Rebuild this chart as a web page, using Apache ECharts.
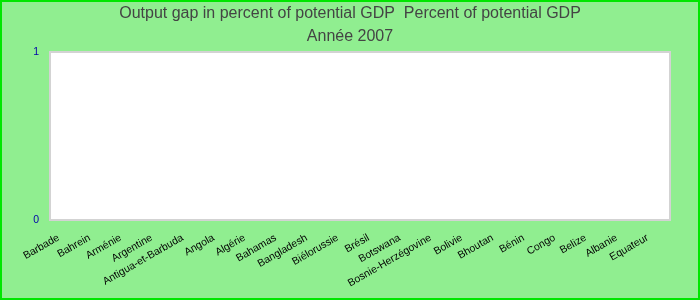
<!DOCTYPE html>
<html>
<head>
<meta charset="utf-8">
<script src="https://cdn.jsdelivr.net/npm/echarts@6/dist/echarts.min.js"></script>
<style>
html,body{margin:0;padding:0;background:#90EE90;}
#chart{width:700px;height:300px;}
</style>
</head>
<body>
<div id="chart"></div>
<script>
const titleLine1 = 'Output gap in percent of potential GDP  Percent of potential GDP';
const titleLine2 = 'Année 2007';
const categories = ['Barbade','Bahrein','Arménie','Argentine','Antigua-et-Barbuda','Angola','Algérie','Bahamas','Bangladesh','Biélorussie','Brésil','Botswana','Bosnie-Herzégovine','Bolivie','Bhoutan','Bénin','Congo','Belize','Albanie','Equateur'];
const values = [null,null,null,null,null,null,null,null,null,null,null,null,null,null,null,null,null,null,null,null];
const yTicks = [0, 1];

const chart = echarts.init(document.getElementById('chart'), null, {renderer:'canvas'});
chart.setOption({
  backgroundColor: '#90EE90',
  animation: false,
  textStyle: {fontFamily: 'Liberation Sans, Arial, sans-serif'},
  title: {
    text: titleLine1 + '\n' + titleLine2,
    left: 'center',
    top: 2,
    padding: 0,
    textStyle: {fontSize: 16, lineHeight: 23, color: '#444444', fontWeight: 'normal', fontFamily: 'Liberation Sans, Arial, sans-serif'}
  },
  grid: {left: 50, right: 30, top: 52, bottom: 80, show: true, backgroundColor: '#ffffff', borderColor: '#d3d3d3', borderWidth: 2, containLabel: false},
  xAxis: {
    type: 'category',
    data: categories,
    axisLine: {show: false},
    axisTick: {show: false},
    splitLine: {show: false},
    axisLabel: {interval: 0, rotate: 30, fontSize: 10.5, color: '#000000', margin: 13, padding: [0, 8, 0, 0], fontFamily: 'Liberation Sans, Arial, sans-serif'}
  },
  yAxis: {
    type: 'value',
    min: yTicks[0],
    max: yTicks[yTicks.length - 1],
    interval: 1,
    axisLine: {show: false},
    axisTick: {show: false},
    splitLine: {show: false},
    axisLabel: {fontSize: 10.5, color: '#0000aa', margin: 11, fontFamily: 'Liberation Sans, Arial, sans-serif'}
  },
  series: [{type: 'bar', data: values}],
  graphic: [{
    type: 'rect', z: 100, silent: true,
    shape: {x: 1, y: 1, width: 698, height: 298},
    style: {fill: null, stroke: '#00e600', lineWidth: 2}
  }]
});
</script>
</body>
</html>
